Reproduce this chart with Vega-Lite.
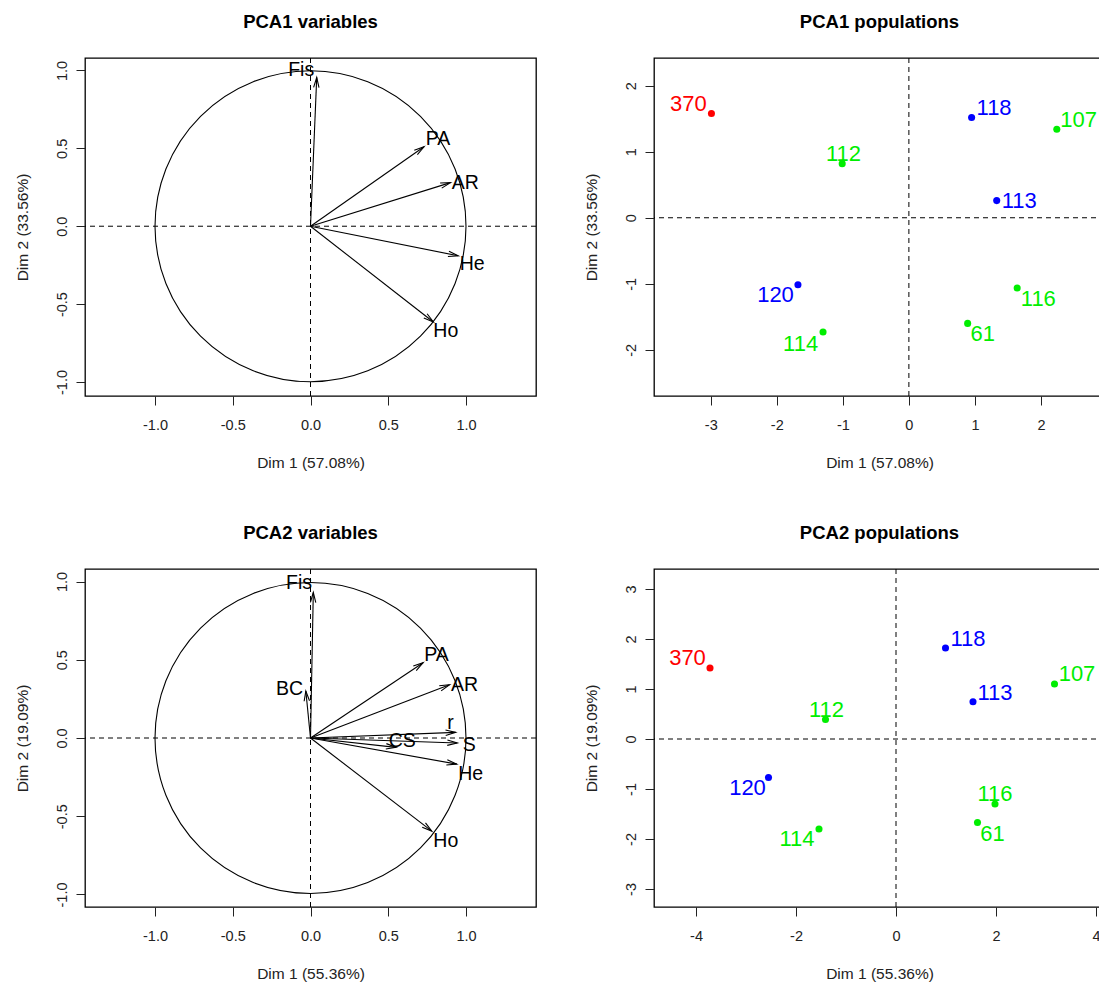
{
  "$schema": "https://vega.github.io/schema/vega-lite/v6.json",
  "padding": {"left": 14, "top": 12, "right": 0, "bottom": 0},
  "background": "white",
  "datasets": {
    "origin": [{"o": 0}],
    "var1": [
      {"name": "Fis", "x0": 0, "y0": 0, "x": 0.04, "y": 0.955, "lx": -0.06, "ly": 1.0},
      {"name": "PA", "x0": 0, "y0": 0, "x": 0.73, "y": 0.51, "lx": 0.82, "ly": 0.56},
      {"name": "AR", "x0": 0, "y0": 0, "x": 0.9, "y": 0.28, "lx": 0.995, "ly": 0.28},
      {"name": "He", "x0": 0, "y0": 0, "x": 0.95, "y": -0.19, "lx": 1.04, "ly": -0.245},
      {"name": "Ho", "x0": 0, "y0": 0, "x": 0.79, "y": -0.615, "lx": 0.87, "ly": -0.675}
    ],
    "var2": [
      {"name": "Fis", "x0": 0, "y0": 0, "x": 0.018, "y": 0.93, "lx": -0.074, "ly": 0.988},
      {"name": "BC", "x0": 0, "y0": 0, "x": -0.03, "y": 0.3, "lx": -0.135, "ly": 0.31},
      {"name": "PA", "x0": 0, "y0": 0, "x": 0.724, "y": 0.481, "lx": 0.81, "ly": 0.528},
      {"name": "AR", "x0": 0, "y0": 0, "x": 0.894, "y": 0.34, "lx": 0.99, "ly": 0.336},
      {"name": "r", "x0": 0, "y0": 0, "x": 0.933, "y": 0.036, "lx": 0.9, "ly": 0.096},
      {"name": "CS", "x0": 0, "y0": 0, "x": 0.55, "y": -0.06, "lx": 0.59, "ly": -0.02},
      {"name": "S", "x0": 0, "y0": 0, "x": 0.944, "y": -0.032, "lx": 1.02, "ly": -0.045},
      {"name": "He", "x0": 0, "y0": 0, "x": 0.94, "y": -0.167, "lx": 1.03, "ly": -0.227},
      {"name": "Ho", "x0": 0, "y0": 0, "x": 0.78, "y": -0.595, "lx": 0.87, "ly": -0.66}
    ],
    "pop1": [
      {"pop": "370", "cluster": "1", "x": -2.99, "y": 1.58, "lx": -3.34, "ly": 1.72},
      {"pop": "118", "cluster": "2", "x": 0.95, "y": 1.52, "lx": 1.29, "ly": 1.66},
      {"pop": "107", "cluster": "3", "x": 2.24, "y": 1.34, "lx": 2.57, "ly": 1.48},
      {"pop": "112", "cluster": "3", "x": -1.01, "y": 0.82, "lx": -0.99, "ly": 0.96},
      {"pop": "113", "cluster": "2", "x": 1.33, "y": 0.26, "lx": 1.67, "ly": 0.25},
      {"pop": "120", "cluster": "2", "x": -1.68, "y": -1.015, "lx": -2.02, "ly": -1.17},
      {"pop": "116", "cluster": "3", "x": 1.64, "y": -1.065, "lx": 1.96, "ly": -1.23},
      {"pop": "61", "cluster": "3", "x": 0.89, "y": -1.6, "lx": 1.12, "ly": -1.76},
      {"pop": "114", "cluster": "3", "x": -1.3, "y": -1.73, "lx": -1.64, "ly": -1.91}
    ],
    "pop2": [
      {"pop": "370", "cluster": "1", "x": -3.72, "y": 1.42, "lx": -4.17, "ly": 1.62},
      {"pop": "118", "cluster": "2", "x": 0.99, "y": 1.82, "lx": 1.44, "ly": 2.01},
      {"pop": "107", "cluster": "3", "x": 3.17, "y": 1.1, "lx": 3.62, "ly": 1.3},
      {"pop": "113", "cluster": "2", "x": 1.54, "y": 0.745, "lx": 1.98, "ly": 0.925},
      {"pop": "112", "cluster": "3", "x": -1.41, "y": 0.39, "lx": -1.39, "ly": 0.58},
      {"pop": "120", "cluster": "2", "x": -2.55, "y": -0.77, "lx": -2.97, "ly": -0.98},
      {"pop": "116", "cluster": "3", "x": 1.98, "y": -1.3, "lx": 1.98, "ly": -1.1},
      {"pop": "61", "cluster": "3", "x": 1.63, "y": -1.67, "lx": 1.93, "ly": -1.9},
      {"pop": "114", "cluster": "3", "x": -1.54, "y": -1.8, "lx": -1.98, "ly": -2.0}
    ]
  },
  "config": {
    "font": "Liberation Sans",
    "view": {"stroke": "black", "strokeWidth": 1.3},
    "axis": {
      "domain": false, "grid": false, "ticks": true, "tickColor": "#222", "tickSize": 9,
      "labelFont": "Liberation Sans", "labelFontSize": 14.5, "labelColor": "#222",
      "titleFont": "Liberation Sans", "titleFontSize": 15.5, "titleFontWeight": "normal", "titleColor": "#222",
      "labelFlush": false, "labelOverlap": false
    },
    "axisX": {"labelPadding": 13, "titlePadding": 24},
    "axisY": {"labelAngle": -90, "labelAlign": "center", "labelBaseline": "bottom", "labelPadding": 7, "titlePadding": 24},
    "title": {"font": "Liberation Sans", "fontSize": 18.5, "fontWeight": "bold", "color": "black", "offset": 26, "anchor": "middle"}
  },
  "columns": 2,
  "spacing": {"row": 51, "column": 45},
  "concat": [
    {
      "title": "PCA1 variables",
      "width": 451, "height": 338,
      "layer": [
        {"data": {"name": "origin"}, "mark": {"type": "rule", "color": "black", "strokeDash": [5, 4], "strokeWidth": 1},
         "encoding": {"x": {"field": "o", "type": "quantitative", "scale": {"domain": [-1.45, 1.45], "nice": false, "zero": false},
           "axis": {"values": [-1, -0.5, 0, 0.5, 1], "labelExpr": "(datum.value < 0 ? '-' : '') + format(abs(datum.value), '.1f')", "title": "Dim 1 (57.08%)"}}}},
        {"data": {"name": "origin"}, "mark": {"type": "rule", "color": "black", "strokeDash": [5, 4], "strokeWidth": 1},
         "encoding": {"y": {"field": "o", "type": "quantitative", "scale": {"domain": [-1.09, 1.08], "nice": false, "zero": false},
           "axis": {"values": [-1, -0.5, 0, 0.5, 1], "labelExpr": "(datum.value < 0 ? '-' : '') + format(abs(datum.value), '.1f')", "title": "Dim 2 (33.56%)"}}}},
        {"data": {"name": "origin"}, "mark": {"type": "point", "shape": "circle", "filled": false, "color": "black", "strokeWidth": 1.1, "size": 96721, "opacity": 1},
         "encoding": {"x": {"field": "o", "type": "quantitative"}, "y": {"field": "o", "type": "quantitative"}}},
        {"data": {"name": "var1"}, "mark": {"type": "rule", "color": "black", "strokeWidth": 1.1},
         "encoding": {"x": {"field": "x0", "type": "quantitative"}, "y": {"field": "y0", "type": "quantitative"}, "x2": {"field": "x"}, "y2": {"field": "y"}}},
        {"data": {"name": "var1"}, "mark": {"type": "point", "shape": "M-0.27,1L0,0L0.27,1", "filled": false, "color": "black", "strokeWidth": 1.1, "size": 400, "opacity": 1, "angle": {"expr": "atan2(datum.x, datum.y) * 180 / PI"}},
         "encoding": {"x": {"field": "x", "type": "quantitative"}, "y": {"field": "y", "type": "quantitative"}}},
        {"data": {"name": "var1"}, "mark": {"type": "text", "fontSize": 19.5, "color": "black", "align": "center", "baseline": "middle"},
         "encoding": {"x": {"field": "lx", "type": "quantitative"}, "y": {"field": "ly", "type": "quantitative"}, "text": {"field": "name"}}}
      ]
    },
    {
      "title": "PCA1 populations",
      "width": 451, "height": 338,
      "layer": [
        {"data": {"name": "origin"}, "mark": {"type": "rule", "color": "black", "strokeDash": [5, 4], "strokeWidth": 1},
         "encoding": {"x": {"field": "o", "type": "quantitative", "scale": {"domain": [-3.86, 2.97], "nice": false, "zero": false},
           "axis": {"values": [-3, -2, -1, 0, 1, 2], "labelExpr": "(datum.value < 0 ? '-' : '') + format(abs(datum.value), 'd')", "title": "Dim 1 (57.08%)"}}}},
        {"data": {"name": "origin"}, "mark": {"type": "rule", "color": "black", "strokeDash": [5, 4], "strokeWidth": 1},
         "encoding": {"y": {"field": "o", "type": "quantitative", "scale": {"domain": [-2.7, 2.42], "nice": false, "zero": false},
           "axis": {"values": [-2, -1, 0, 1, 2], "labelExpr": "(datum.value < 0 ? '-' : '') + format(abs(datum.value), 'd')", "title": "Dim 2 (33.56%)"}}}},
        {"data": {"name": "pop1"}, "mark": {"type": "point", "shape": "circle", "filled": true, "size": 50, "opacity": 1},
         "encoding": {"x": {"field": "x", "type": "quantitative"}, "y": {"field": "y", "type": "quantitative"},
           "color": {"field": "cluster", "type": "nominal", "scale": {"domain": ["1", "2", "3"], "range": ["#FF0000", "#0000FF", "#00EE00"]}, "legend": null}}},
        {"data": {"name": "pop1"}, "mark": {"type": "text", "fontSize": 22, "align": "center", "baseline": "middle"},
         "encoding": {"x": {"field": "lx", "type": "quantitative"}, "y": {"field": "ly", "type": "quantitative"}, "text": {"field": "pop"},
           "color": {"field": "cluster", "type": "nominal", "scale": {"domain": ["1", "2", "3"], "range": ["#FF0000", "#0000FF", "#00EE00"]}, "legend": null}}}
      ]
    },
    {
      "title": "PCA2 variables",
      "width": 451, "height": 338,
      "layer": [
        {"data": {"name": "origin"}, "mark": {"type": "rule", "color": "black", "strokeDash": [5, 4], "strokeWidth": 1},
         "encoding": {"x": {"field": "o", "type": "quantitative", "scale": {"domain": [-1.45, 1.45], "nice": false, "zero": false},
           "axis": {"values": [-1, -0.5, 0, 0.5, 1], "labelExpr": "(datum.value < 0 ? '-' : '') + format(abs(datum.value), '.1f')", "title": "Dim 1 (55.36%)"}}}},
        {"data": {"name": "origin"}, "mark": {"type": "rule", "color": "black", "strokeDash": [5, 4], "strokeWidth": 1},
         "encoding": {"y": {"field": "o", "type": "quantitative", "scale": {"domain": [-1.08, 1.08], "nice": false, "zero": false},
           "axis": {"values": [-1, -0.5, 0, 0.5, 1], "labelExpr": "(datum.value < 0 ? '-' : '') + format(abs(datum.value), '.1f')", "title": "Dim 2 (19.09%)"}}}},
        {"data": {"name": "origin"}, "mark": {"type": "point", "shape": "circle", "filled": false, "color": "black", "strokeWidth": 1.1, "size": 96721, "opacity": 1},
         "encoding": {"x": {"field": "o", "type": "quantitative"}, "y": {"field": "o", "type": "quantitative"}}},
        {"data": {"name": "var2"}, "mark": {"type": "rule", "color": "black", "strokeWidth": 1.1},
         "encoding": {"x": {"field": "x0", "type": "quantitative"}, "y": {"field": "y0", "type": "quantitative"}, "x2": {"field": "x"}, "y2": {"field": "y"}}},
        {"data": {"name": "var2"}, "mark": {"type": "point", "shape": "M-0.27,1L0,0L0.27,1", "filled": false, "color": "black", "strokeWidth": 1.1, "size": 400, "opacity": 1, "angle": {"expr": "atan2(datum.x, datum.y) * 180 / PI"}},
         "encoding": {"x": {"field": "x", "type": "quantitative"}, "y": {"field": "y", "type": "quantitative"}}},
        {"data": {"name": "var2"}, "mark": {"type": "text", "fontSize": 19.5, "color": "black", "align": "center", "baseline": "middle"},
         "encoding": {"x": {"field": "lx", "type": "quantitative"}, "y": {"field": "ly", "type": "quantitative"}, "text": {"field": "name"}}}
      ]
    },
    {
      "title": "PCA2 populations",
      "width": 451, "height": 338,
      "layer": [
        {"data": {"name": "origin"}, "mark": {"type": "rule", "color": "black", "strokeDash": [5, 4], "strokeWidth": 1},
         "encoding": {"x": {"field": "o", "type": "quantitative", "scale": {"domain": [-4.84, 4.18], "nice": false, "zero": false},
           "axis": {"values": [-4, -2, 0, 2, 4], "labelExpr": "(datum.value < 0 ? '-' : '') + format(abs(datum.value), 'd')", "title": "Dim 1 (55.36%)"}}}},
        {"data": {"name": "origin"}, "mark": {"type": "rule", "color": "black", "strokeDash": [5, 4], "strokeWidth": 1},
         "encoding": {"y": {"field": "o", "type": "quantitative", "scale": {"domain": [-3.36, 3.4], "nice": false, "zero": false},
           "axis": {"values": [-3, -2, -1, 0, 1, 2, 3], "labelExpr": "(datum.value < 0 ? '-' : '') + format(abs(datum.value), 'd')", "title": "Dim 2 (19.09%)"}}}},
        {"data": {"name": "pop2"}, "mark": {"type": "point", "shape": "circle", "filled": true, "size": 50, "opacity": 1},
         "encoding": {"x": {"field": "x", "type": "quantitative"}, "y": {"field": "y", "type": "quantitative"},
           "color": {"field": "cluster", "type": "nominal", "scale": {"domain": ["1", "2", "3"], "range": ["#FF0000", "#0000FF", "#00EE00"]}, "legend": null}}},
        {"data": {"name": "pop2"}, "mark": {"type": "text", "fontSize": 22, "align": "center", "baseline": "middle"},
         "encoding": {"x": {"field": "lx", "type": "quantitative"}, "y": {"field": "ly", "type": "quantitative"}, "text": {"field": "pop"},
           "color": {"field": "cluster", "type": "nominal", "scale": {"domain": ["1", "2", "3"], "range": ["#FF0000", "#0000FF", "#00EE00"]}, "legend": null}}}
      ]
    }
  ]
}
